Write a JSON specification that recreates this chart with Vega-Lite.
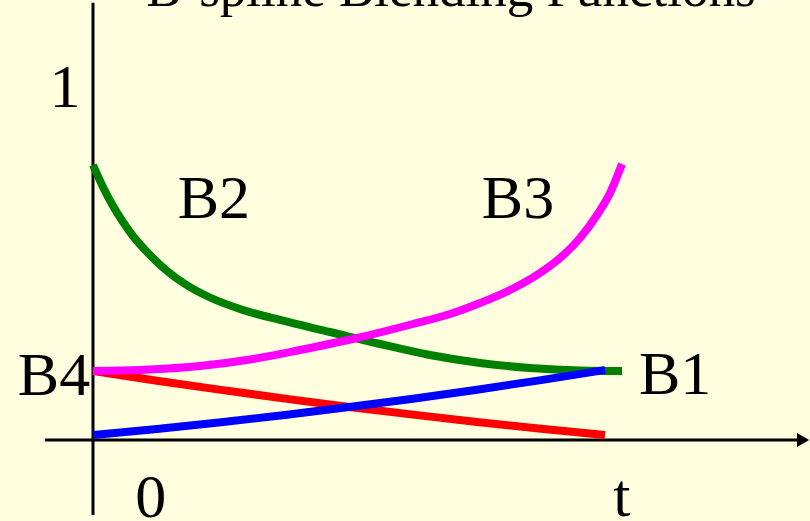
{
  "$schema": "https://vega.github.io/schema/vega-lite/v6.json",
  "width": 810,
  "height": 521,
  "autosize": "none",
  "padding": 0,
  "background": "#FFFFE0",
  "config": {"view": {"stroke": null}},
  "datasets": {
    "axes": [
      {"t": 0, "t2": 0, "y": 1.056, "y2": -0.181},
      {"t": -0.094, "t2": 1.38, "y": 0, "y2": 0}
    ],
    "arrow": [{"t": 1.387, "y": 0}],
    "curves": [
      {"s": "B2", "t": 0, "y": 0.6643},
      {"s": "B2", "t": 0.0195, "y": 0.6111},
      {"s": "B2", "t": 0.0391, "y": 0.5652},
      {"s": "B2", "t": 0.0586, "y": 0.5266},
      {"s": "B2", "t": 0.0781, "y": 0.4928},
      {"s": "B2", "t": 0.1074, "y": 0.4517},
      {"s": "B2", "t": 0.1406, "y": 0.4126},
      {"s": "B2", "t": 0.1797, "y": 0.3768},
      {"s": "B2", "t": 0.2285, "y": 0.3442},
      {"s": "B2", "t": 0.2871, "y": 0.3164},
      {"s": "B2", "t": 0.3652, "y": 0.2899},
      {"s": "B2", "t": 0.4629, "y": 0.2609},
      {"s": "B2", "t": 0.5605, "y": 0.2319},
      {"s": "B2", "t": 0.6582, "y": 0.2053},
      {"s": "B2", "t": 0.7559, "y": 0.186},
      {"s": "B2", "t": 0.8535, "y": 0.1739},
      {"s": "B2", "t": 0.9512, "y": 0.1679},
      {"s": "B2", "t": 1.0332, "y": 0.1667},
      {"s": "B4", "t": 0, "y": 0.1667},
      {"s": "B4", "t": 0.125, "y": 0.1432},
      {"s": "B4", "t": 0.25, "y": 0.121},
      {"s": "B4", "t": 0.375, "y": 0.1},
      {"s": "B4", "t": 0.5, "y": 0.0799},
      {"s": "B4", "t": 0.625, "y": 0.0613},
      {"s": "B4", "t": 0.75, "y": 0.0437},
      {"s": "B4", "t": 0.875, "y": 0.0273},
      {"s": "B4", "t": 1.0, "y": 0.0121},
      {"s": "B3", "t": 0, "y": 0.1667},
      {"s": "B3", "t": 0.1113, "y": 0.1703},
      {"s": "B3", "t": 0.209, "y": 0.1787},
      {"s": "B3", "t": 0.3066, "y": 0.1944},
      {"s": "B3", "t": 0.4043, "y": 0.2174},
      {"s": "B3", "t": 0.5156, "y": 0.2464},
      {"s": "B3", "t": 0.625, "y": 0.2802},
      {"s": "B3", "t": 0.6973, "y": 0.3043},
      {"s": "B3", "t": 0.7559, "y": 0.3309},
      {"s": "B3", "t": 0.8145, "y": 0.3623},
      {"s": "B3", "t": 0.873, "y": 0.4034},
      {"s": "B3", "t": 0.9121, "y": 0.4396},
      {"s": "B3", "t": 0.9512, "y": 0.4879},
      {"s": "B3", "t": 0.9844, "y": 0.5435},
      {"s": "B3", "t": 1.0098, "y": 0.5966},
      {"s": "B3", "t": 1.0332, "y": 0.6667},
      {"s": "B1", "t": 0, "y": 0.0121},
      {"s": "B1", "t": 0.125, "y": 0.0268},
      {"s": "B1", "t": 0.25, "y": 0.043},
      {"s": "B1", "t": 0.375, "y": 0.0604},
      {"s": "B1", "t": 0.5, "y": 0.0795},
      {"s": "B1", "t": 0.625, "y": 0.0998},
      {"s": "B1", "t": 0.75, "y": 0.1215},
      {"s": "B1", "t": 0.875, "y": 0.1447},
      {"s": "B1", "t": 1.0, "y": 0.1691}
    ],
    "labels": [
      {"text": "1", "t": -0.0547, "y": 0.804},
      {"text": "B4", "t": -0.0762, "y": 0.109},
      {"text": "0", "t": 0.113, "y": -0.186},
      {"text": "t", "t": 1.033, "y": -0.184},
      {"text": "B1", "t": 1.137, "y": 0.111},
      {"text": "B2", "t": 0.236, "y": 0.536},
      {"text": "B3", "t": 0.83, "y": 0.536}
    ],
    "title": [{"text": "B-spline Blending Functions", "t": 0.699, "y": 1.048}]
  },
  "layer": [
    {
      "data": {"name": "axes"},
      "mark": {"type": "rule", "color": "#000000", "strokeWidth": 3},
      "encoding": {
        "x": {"field": "t", "type": "quantitative", "scale": {"domain": [-0.18164, 1.40039], "nice": false, "zero": false}, "axis": null},
        "x2": {"field": "t2"},
        "y": {"field": "y", "type": "quantitative", "scale": {"domain": [-0.19565, 1.0628], "nice": false, "zero": false}, "axis": null},
        "y2": {"field": "y2"}
      }
    },
    {
      "data": {"name": "arrow"},
      "mark": {"type": "point", "shape": "triangle-right", "filled": true, "color": "#000000", "opacity": 1, "size": 200},
      "encoding": {
        "x": {"field": "t", "type": "quantitative", "axis": null},
        "y": {"field": "y", "type": "quantitative", "axis": null}
      }
    },
    {
      "data": {"name": "curves"},
      "mark": {"type": "line", "strokeWidth": 8, "interpolate": "monotone", "strokeCap": "butt"},
      "encoding": {
        "x": {"field": "t", "type": "quantitative", "axis": null},
        "y": {"field": "y", "type": "quantitative", "axis": null},
        "color": {"field": "s", "type": "nominal", "legend": null, "sort": ["B2", "B4", "B3", "B1"], "scale": {"domain": ["B2", "B4", "B3", "B1"], "range": ["#008000", "#FF0000", "#FF00FF", "#0000FF"]}}
      }
    },
    {
      "data": {"name": "labels"},
      "mark": {"type": "text", "font": "Liberation Serif", "fontSize": 62, "baseline": "alphabetic", "align": "center", "color": "#000000"},
      "encoding": {
        "x": {"field": "t", "type": "quantitative", "axis": null},
        "y": {"field": "y", "type": "quantitative", "axis": null},
        "text": {"field": "text"}
      }
    },
    {
      "data": {"name": "title"},
      "mark": {"type": "text", "font": "Liberation Serif", "fontSize": 53, "baseline": "alphabetic", "align": "center", "color": "#000000"},
      "encoding": {
        "x": {"field": "t", "type": "quantitative", "axis": null},
        "y": {"field": "y", "type": "quantitative", "axis": null},
        "text": {"field": "text"}
      }
    }
  ]
}
